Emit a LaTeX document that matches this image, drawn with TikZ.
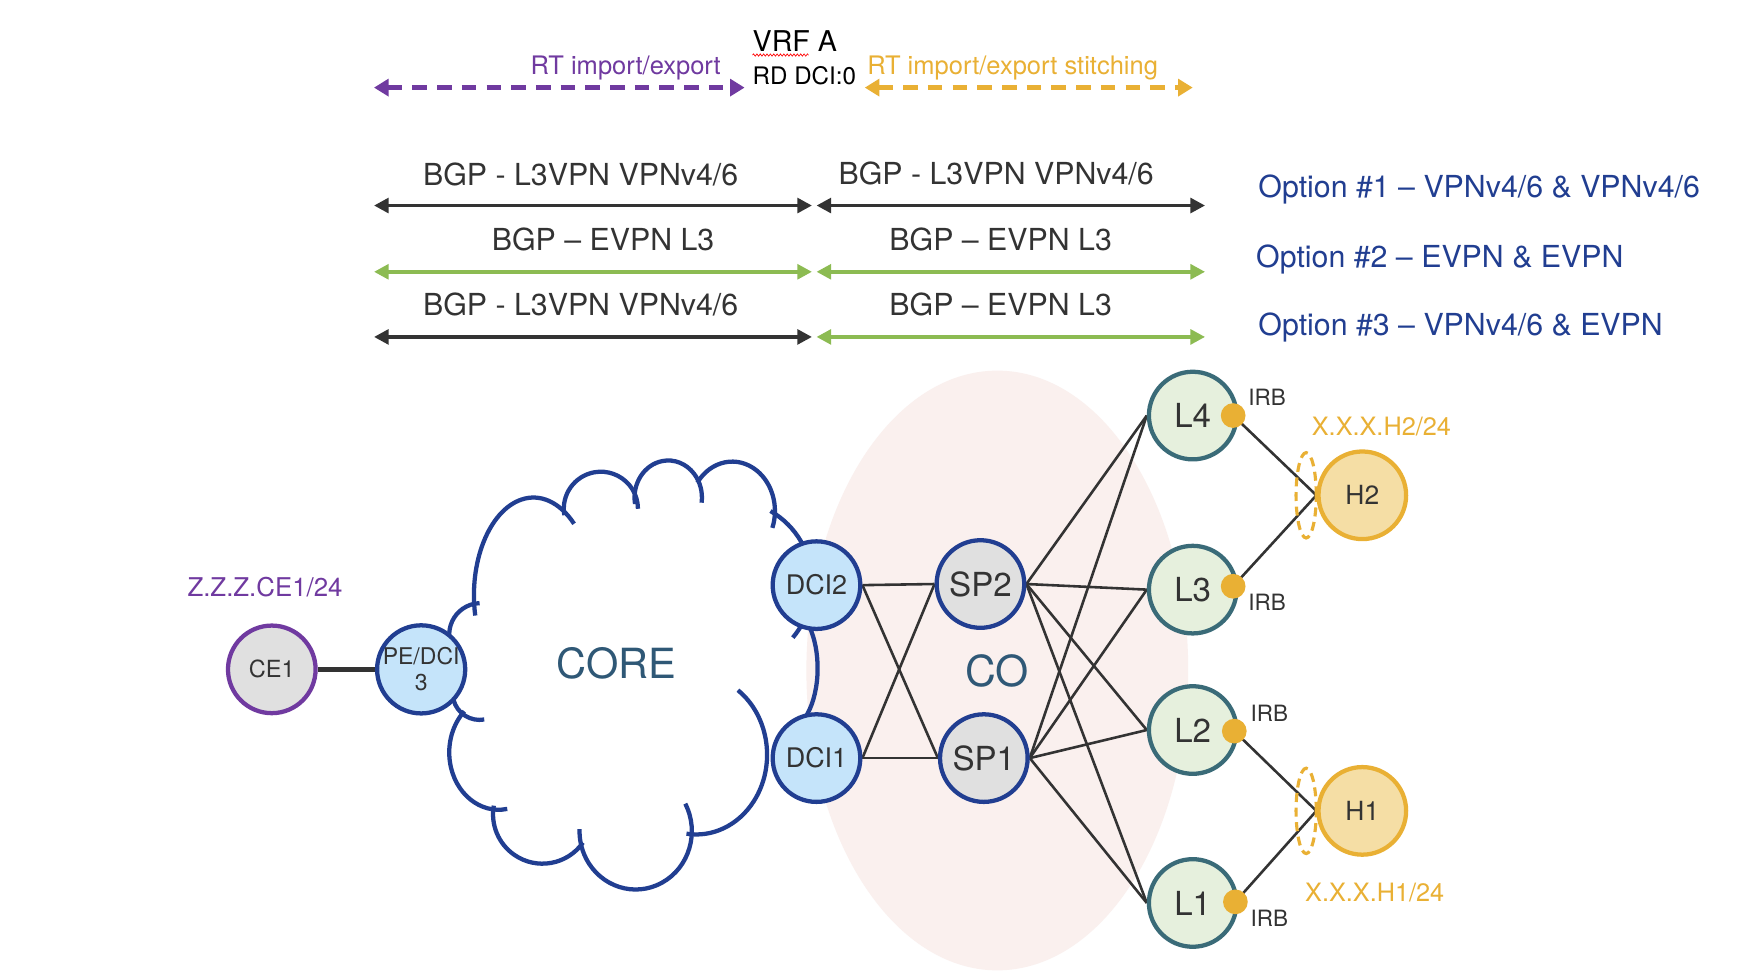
\documentclass[tikz,border=0pt]{standalone}
\usepackage{fontspec}
\setmainfont{TeX Gyre Heros}
\usetikzlibrary{arrows.meta,calc,decorations.pathmorphing,shapes.geometric}
\pgfdeclarelayer{bg}
\pgfdeclarelayer{edges}
\pgfsetlayers{bg,edges,main}
\definecolor{cpurple}{RGB}{112,58,160}
\definecolor{corange}{RGB}{233,176,52}
\definecolor{cgreen}{RGB}{140,187,82}
\definecolor{cdark}{RGB}{51,51,51}
\definecolor{cblue}{RGB}{33,62,145}
\definecolor{cltblue}{RGB}{197,228,250}
\definecolor{cgray}{RGB}{224,224,224}
\definecolor{cleaf}{RGB}{230,240,221}
\definecolor{cteal}{RGB}{58,107,120}
\definecolor{chost}{RGB}{245,222,165}
\definecolor{cpink}{RGB}{250,240,238}
\definecolor{ccore}{RGB}{47,88,118}
\newcommand\myfs[1]{\fontsize{#1}{#1}\selectfont}
\newcommand\myarc[5]{\draw[mycloud] ($(#1)+(#4:#2 and #3)$) arc[start angle=#4,end angle=#5,x radius=#2,y radius=#3];}
\tikzset{
  mydev/.style={circle, minimum size=78pt, inner sep=0pt, line width=3.8pt, text=cdark},
  myblue/.style={mydev, draw=cblue, fill=cltblue},
  myspine/.style={mydev, draw=cblue, fill=cgray, font=\myfs{29.5}},
  myleaf/.style={mydev, draw=cteal, fill=cleaf, font=\myfs{29.5}},
  myhost/.style={mydev, draw=corange, fill=chost, font=\myfs{23.5}},
  myce/.style={mydev, draw=cpurple, fill=cgray, font=\myfs{21}},
  mylnk/.style={draw=cdark, line width=2.3pt},
  mycloud/.style={draw=cblue, line width=3.8pt},
  mysolid/.style={line width=3.5pt, {Triangle[length=13pt,width=13pt]}-{Triangle[length=13pt,width=13pt]}},
  mydash/.style={line width=4pt, dash pattern=on 13pt off 9pt, {Triangle[length=13pt,width=15pt]}-{Triangle[length=13pt,width=15pt]}},
  mydot/.style={circle, fill=corange, minimum size=22pt, inner sep=0pt},
  myrow/.style={anchor=base, text=cdark, font=\myfs{27}},
  myopt/.style={anchor=base west, text=cblue, font=\myfs{27}},
  myirb/.style={anchor=base west, text=cdark, font=\myfs{20}},
  mygroup/.style={ellipse, draw=corange, line width=2.8pt, dash pattern=on 8pt off 5pt, minimum width=18pt, minimum height=76pt, inner sep=0pt},
}
\begin{document}
\begin{tikzpicture}[x=1pt,y=-1pt]
\useasboundingbox (0,0) rectangle (1568,868);
\begin{pgfonlayer}{bg}
\fill[white] (0,0) rectangle (1568,868);
\fill[cpink] (888,597) ellipse [x radius=170, y radius=267];
\end{pgfonlayer}
% top annotations
\node[anchor=base west, text=black, font=\myfs{25.5}, inner sep=0pt] (vrf) at (670,46) {VRF A};
\draw[red, line width=0.6pt, decorate, decoration={snake, amplitude=1pt, segment length=3pt}] ($(vrf.base west)+(0,3)$) -- ++(50,0);
\node[anchor=base west, text=black, font=\myfs{21.5}, inner sep=0pt] (rd) at (670,75) {RD DCI:0};
\node[anchor=base east, text=cpurple, font=\myfs{22.7}, inner sep=0pt] (rtie) at (642,66) {RT import/export};
\node[anchor=base west, text=corange, font=\myfs{22.7}, inner sep=0pt] (rts) at (772,66) {RT import/export stitching};
\coordinate (pa) at (333,78); \coordinate (pb) at (663,78);
\coordinate (oa) at (770,78); \coordinate (ob) at (1062,78);
\draw[mydash, cpurple] (pa) -- (pb);
\draw[mydash, corange] (oa) -- (ob);
% rows
\node[myrow] (r1l) at (517,165) {BGP - L3VPN VPNv4/6};
\node[myrow] (r1r) at (887,164) {BGP - L3VPN VPNv4/6};
\node[myrow] (r2l) at (537,223) {BGP -- EVPN L3};
\node[myrow] (r2r) at (891,223) {BGP -- EVPN L3};
\node[myrow] (r3l) at (517,281) {BGP - L3VPN VPNv4/6};
\node[myrow] (r3r) at (891,281) {BGP -- EVPN L3};
\coordinate (a1) at (333,183); \coordinate (m1) at (723,183); \coordinate (n1) at (727,183); \coordinate (b1) at (1073,183);
\coordinate (a2) at (333,242); \coordinate (m2) at (723,242); \coordinate (n2) at (727,242); \coordinate (b2) at (1073,242);
\coordinate (a3) at (333,300); \coordinate (m3) at (723,300); \coordinate (n3) at (727,300); \coordinate (b3) at (1073,300);
\draw[mysolid, cdark] (a1) -- (m1);
\draw[mysolid, cdark] (n1) -- (b1);
\draw[mysolid, cgreen] (a2) -- (m2);
\draw[mysolid, cgreen] (n2) -- (b2);
\draw[mysolid, cdark] (a3) -- (m3);
\draw[mysolid, cgreen] (n3) -- (b3);
\node[myopt] (o1) at (1117,176) {Option \#1 -- VPNv4/6 \& VPNv4/6};
\node[myopt] (o2) at (1115,238) {Option \#2 -- EVPN \& EVPN};
\node[myopt] (o3) at (1117,299) {Option \#3 -- VPNv4/6 \& EVPN};
% cloud
\begin{pgfonlayer}{edges}
\myarc{428,565}{28}{28}{175}{268}
\myarc{475,530}{53}{87}{168}{313}
\myarc{535,453}{33}{33}{170}{360}
\myarc{595,443}{30}{33}{170}{368}
\myarc{652,455}{38}{44}{215}{380}
\myarc{648.7,519.7}{74.7}{74.7}{300}{400}
\myarc{700,595}{28}{55}{-60}{60}
\myarc{620,672}{63}{71}{-54}{98}
\myarc{566,740}{50}{52}{-28}{182}
\myarc{483,725}{44}{44}{35}{190}
\myarc{444,670}{44}{51}{80}{226}
\myarc{427,617}{24}{24}{80}{165}
\end{pgfonlayer}
\node[anchor=base, text=ccore, font=\myfs{37}] (core) at (549,604) {CORE};
\node[anchor=base, text=ccore, font=\myfs{38}] (co) at (888,611) {CO};
% nodes
\node[myce] (CE1) at (242,596) {CE1};
\node[myblue, align=center, font=\fontsize{20.5}{23}\selectfont] (PE) at (375,596) {PE/DCI\\3};
\node[myblue, font=\myfs{24}] (DCI2) at (727,521) {DCI2};
\node[myblue, font=\myfs{24}] (DCI1) at (727,675) {DCI1};
\node[myspine] (SP2) at (873,520) {SP2};
\node[myspine] (SP1) at (876,675) {SP1};
\node[myleaf] (L4) at (1062,370) {L4};
\node[myleaf] (L3) at (1062,525) {L3};
\node[myleaf] (L2) at (1062,650) {L2};
\node[myleaf] (L1) at (1062,804) {L1};
\node[myhost] (H2) at (1213,441) {H2};
\node[myhost] (H1) at (1213,722) {H1};
\node[mydot] (d4) at (1098,370) {};
\node[mydot] (d3) at (1098,522) {};
\node[mydot] (d2) at (1099,651) {};
\node[mydot] (d1) at (1100,803) {};
\node[mygroup] (g2) at (1163,441) {};
\node[mygroup] (g1) at (1163,722) {};
% labels
\node[anchor=base, text=cpurple, font=\myfs{23}] (zlab) at (236,531) {Z.Z.Z.CE1/24};
\node[anchor=base, text=corange, font=\myfs{22.5}] (h2lab) at (1230,388) {X.X.X.H2/24};
\node[anchor=base, text=corange, font=\myfs{22.5}] (h1lab) at (1224,803) {X.X.X.H1/24};
\node[myirb] (i4) at (1108,361) {IRB};
\node[myirb] (i3) at (1108,544) {IRB};
\node[myirb] (i2) at (1110,642) {IRB};
\node[myirb] (i1) at (1110,825) {IRB};
% connectors
\begin{pgfonlayer}{edges}
\draw[mylnk, line width=4pt] (CE1) -- (PE);
\foreach \d in {DCI2,DCI1}{\foreach \s in {SP2,SP1}{\draw[mylnk] (\d.east) -- (\s.west);}}
\foreach \s in {SP2,SP1}{\foreach \l in {L4,L3,L2,L1}{\draw[mylnk] (\s.east) -- (\l.west);}}
\draw[mylnk] (d4.center) -- (H2.west);
\draw[mylnk] (d3.center) -- (H2.west);
\draw[mylnk] (d2.center) -- (H1.west);
\draw[mylnk] (d1.center) -- (H1.west);
\end{pgfonlayer}
\end{tikzpicture}
\end{document}
